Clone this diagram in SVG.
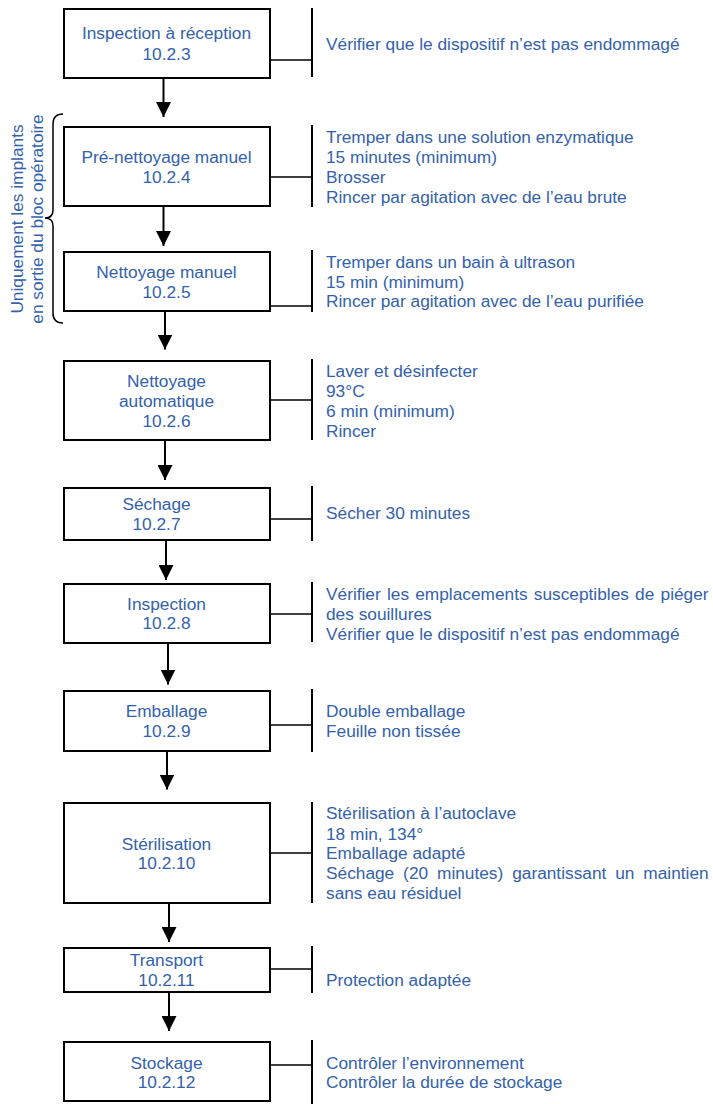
<svg xmlns="http://www.w3.org/2000/svg" width="713" height="1104" viewBox="0 0 713 1104">
<style>
.box{fill:#fff;stroke:#000;stroke-width:2}
.t{font-family:"Liberation Sans",Arial,sans-serif;font-size:17.3px;fill:#3462AA}
.c{text-anchor:middle}
.br{stroke:#000;stroke-width:2;fill:none}
.hz{stroke:#000;stroke-width:1.5;fill:none}
.ar{stroke:#000;stroke-width:2;fill:none;marker-end:url(#ah)}
</style>
<defs>
<marker id="ah" viewBox="0 0 15 15" refX="15" refY="7.5" markerWidth="15" markerHeight="15" markerUnits="userSpaceOnUse" orient="auto">
<path d="M0,0 L15,7.5 L0,15 z" fill="#000"/>
</marker>
</defs>
<rect width="713" height="1104" fill="#fff"/>

<g id="connectors">
<line class="ar" x1="163.5" y1="79" x2="163.5" y2="117"/>
<line class="ar" x1="163.5" y1="207" x2="163.5" y2="246"/>
<line class="ar" x1="165" y1="312" x2="165" y2="349.5"/>
<line class="ar" x1="165" y1="441" x2="165" y2="480"/>
<line class="ar" x1="166" y1="541" x2="166" y2="580"/>
<line class="ar" x1="168" y1="644" x2="168" y2="684.5"/>
<line class="ar" x1="167" y1="752" x2="167" y2="789.5"/>
<line class="ar" x1="169" y1="904" x2="169" y2="942"/>
<line class="ar" x1="169" y1="993" x2="169" y2="1031"/>
</g>

<g id="brace">
<path class="br" style="stroke-width:1.5" d="M63,114 C57,114 53,117 53,124 L53,210 C53,215 50,218 45,218 C50,218 53,221 53,226 L53,313 C53,320 57,323 63,323"/>
<text class="t c" transform="translate(23,219) rotate(-90)">Uniquement les implants</text>
<text class="t c" transform="translate(43,219) rotate(-90)">en sortie du bloc opératoire</text>
</g>

<g id="n1">
<rect class="box" x="64" y="9" width="206" height="69"/>
<text class="t c" x="166.5" y="39">Inspection à réception</text>
<text class="t c" x="166.5" y="60">10.2.3</text>
<line class="hz" x1="271" y1="60" x2="312" y2="60"/>
<line class="br" x1="312" y1="8" x2="312" y2="77"/>
<text class="t" x="326" y="50">Vérifier que le dispositif n’est pas endommagé</text>
</g>

<g id="n2">
<rect class="box" x="64" y="127" width="206" height="79"/>
<text class="t c" x="166.5" y="163.3">Pré-nettoyage manuel</text>
<text class="t c" x="166.5" y="182.7">10.2.4</text>
<line class="hz" x1="271" y1="177" x2="312" y2="177"/>
<line class="br" x1="312" y1="125" x2="312" y2="207"/>
<text class="t" x="326" y="143">Tremper dans une solution enzymatique</text>
<text class="t" x="326" y="163">15 minutes (minimum)</text>
<text class="t" x="326" y="183">Brosser</text>
<text class="t" x="326" y="203">Rincer par agitation avec de l’eau brute</text>
</g>

<g id="n3">
<rect class="box" x="64" y="252" width="206" height="59"/>
<text class="t c" x="166.5" y="277.7">Nettoyage manuel</text>
<text class="t c" x="166.5" y="298.3">10.2.5</text>
<line class="hz" x1="271" y1="306" x2="312" y2="306"/>
<line class="br" x1="312" y1="250" x2="312" y2="312"/>
<text class="t" x="326" y="268">Tremper dans un bain à ultrason</text>
<text class="t" x="326" y="287.7">15 min (minimum)</text>
<text class="t" x="326" y="307.3">Rincer par agitation avec de l’eau purifiée</text>
</g>

<g id="n4">
<rect class="box" x="64" y="361" width="206" height="79"/>
<text class="t c" x="166.5" y="386.7">Nettoyage</text>
<text class="t c" x="166.5" y="406.7">automatique</text>
<text class="t c" x="166.5" y="426.7">10.2.6</text>
<line class="hz" x1="271" y1="400" x2="312" y2="400"/>
<line class="br" x1="312" y1="359" x2="312" y2="440"/>
<text class="t" x="326" y="376.7">Laver et désinfecter</text>
<text class="t" x="326" y="397">93°C</text>
<text class="t" x="326" y="416.7">6 min (minimum)</text>
<text class="t" x="326" y="436.7">Rincer</text>
</g>

<g id="n5">
<rect class="box" x="64" y="488" width="206" height="52"/>
<text class="t c" x="156.5" y="510">Séchage</text>
<text class="t c" x="156.5" y="530">10.2.7</text>
<line class="hz" x1="271" y1="519" x2="312" y2="519"/>
<line class="br" x1="312" y1="486" x2="312" y2="541"/>
<text class="t" x="326" y="519.3">Sécher 30 minutes</text>
</g>

<g id="n6">
<rect class="box" x="64" y="584" width="206" height="59"/>
<text class="t c" x="166.5" y="610">Inspection</text>
<text class="t c" x="166.5" y="629.3">10.2.8</text>
<line class="hz" x1="271" y1="614" x2="312" y2="614"/>
<line class="br" x1="312" y1="582" x2="312" y2="642"/>
<text class="t" x="326" y="600" word-spacing="1.4">Vérifier les emplacements susceptibles de piéger</text>
<text class="t" x="326" y="620">des souillures</text>
<text class="t" x="326" y="640">Vérifier que le dispositif n’est pas endommagé</text>
</g>

<g id="n7">
<rect class="box" x="64" y="691" width="206" height="60"/>
<text class="t c" x="166.5" y="717.3">Emballage</text>
<text class="t c" x="166.5" y="737.3">10.2.9</text>
<line class="hz" x1="271" y1="725" x2="312" y2="725"/>
<line class="br" x1="312" y1="689" x2="312" y2="752"/>
<text class="t" x="326" y="717.3">Double emballage</text>
<text class="t" x="326" y="737.3">Feuille non tissée</text>
</g>

<g id="n8">
<rect class="box" x="64" y="803" width="206" height="100"/>
<text class="t c" x="166.5" y="850">Stérilisation</text>
<text class="t c" x="166.5" y="869.3">10.2.10</text>
<line class="hz" x1="271" y1="853" x2="312" y2="853"/>
<line class="br" x1="312" y1="802" x2="312" y2="903"/>
<text class="t" x="326" y="819.3">Stérilisation à l’autoclave</text>
<text class="t" x="326" y="840">18 min, 134°</text>
<text class="t" x="326" y="859.3">Emballage adapté</text>
<text class="t" x="326" y="879.3" word-spacing="4.1">Séchage (20 minutes) garantissant un maintien</text>
<text class="t" x="326" y="899">sans eau résiduel</text>
</g>

<g id="n9">
<rect class="box" x="64" y="948" width="206" height="44"/>
<text class="t c" x="166.5" y="966">Transport</text>
<text class="t c" x="166.5" y="985.7">10.2.11</text>
<line class="hz" x1="271" y1="969" x2="312" y2="969"/>
<line class="br" x1="312" y1="946" x2="312" y2="993"/>
<text class="t" x="326" y="986">Protection adaptée</text>
</g>

<g id="n10">
<rect class="box" x="64" y="1042" width="206" height="59"/>
<text class="t c" x="166.5" y="1069">Stockage</text>
<text class="t c" x="166.5" y="1088.3">10.2.12</text>
<line class="hz" x1="271" y1="1065" x2="312" y2="1065"/>
<line class="br" x1="312" y1="1040" x2="312" y2="1104"/>
<text class="t" x="326" y="1069.3">Contrôler l’environnement</text>
<text class="t" x="326" y="1088.3">Contrôler la durée de stockage</text>
</g>
</svg>
